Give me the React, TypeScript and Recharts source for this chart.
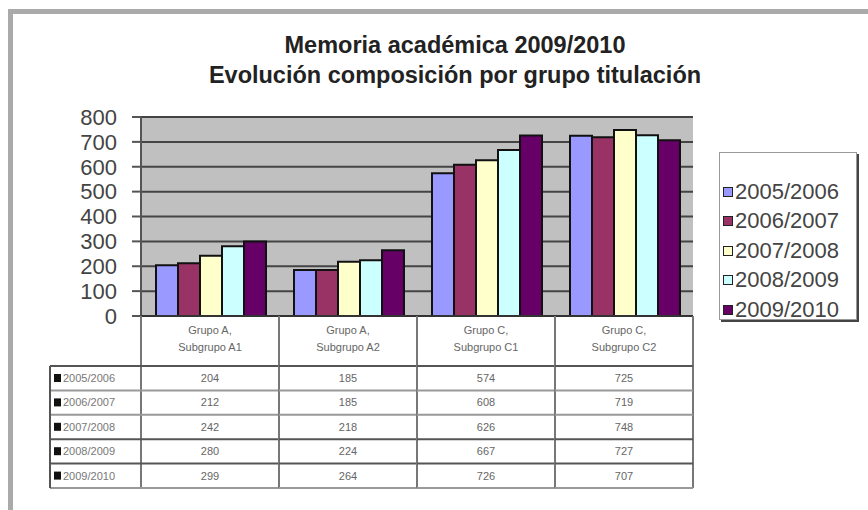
import React from "react";
import { BarChart, Bar, XAxis, YAxis, CartesianGrid, Legend } from "recharts";

const categories = [
  "Grupo A, Subgrupo A1",
  "Grupo A, Subgrupo A2",
  "Grupo C, Subgrupo C1",
  "Grupo C, Subgrupo C2",
];
const seriesNames = ["2005/2006", "2006/2007", "2007/2008", "2008/2009", "2009/2010"];
const s2005 = [204, 185, 574, 725];
const s2006 = [212, 185, 608, 719];
const s2007 = [242, 218, 626, 748];
const s2008 = [280, 224, 667, 727];
const s2009 = [299, 264, 726, 707];
const seriesValues = [s2005, s2006, s2007, s2008, s2009];
const seriesColors = ["#9999FF", "#993366", "#FFFFCC", "#CCFFFF", "#660066"];
const yTicks = [0, 100, 200, 300, 400, 500, 600, 700, 800];
const titleLines = ["Memoria académica 2009/2010", "Evolución composición por grupo titulación"];

const data = categories.map((c, i) => {
  const row: Record<string, any> = { name: c };
  seriesNames.forEach((s, k) => {
    row[s] = seriesValues[k][i];
  });
  return row;
});

const FONT = "'Liberation Sans', Arial, sans-serif";
const ROW_H = 24.4;
const HEADER_H = 50;
const rowLineColors = ["#555", "#999", "#999", "#555", "#555", "#999"];

const TableTick = (props: any) => {
  const { x, y, payload, index, width } = props;
  const band = (width || 552) / categories.length;
  const y0 = y;
  const left = x - band / 2;
  const right = x + band / 2;
  const parts = String(payload.value).split(", ");
  const bottom = y0 + HEADER_H + ROW_H * seriesNames.length;
  return (
    <g>
      <line x1={left} y1={y0} x2={left} y2={bottom} stroke="#777" strokeWidth={2} />
      {index === categories.length - 1 && (
        <line x1={right} y1={y0} x2={right} y2={bottom} stroke="#777" strokeWidth={2} />
      )}
      <text x={x} y={y0 + 18} textAnchor="middle" fontSize={11} fill="#666" fontFamily={FONT}>
        {parts[0] + ","}
      </text>
      <text x={x} y={y0 + 35} textAnchor="middle" fontSize={11} fill="#666" fontFamily={FONT}>
        {parts[1]}
      </text>
      {seriesNames.map((s, k) => (
        <text
          key={s}
          x={x}
          y={y0 + HEADER_H + ROW_H * k + 16}
          textAnchor="middle"
          fontSize={11}
          fill="#666"
          fontFamily={FONT}
        >
          {seriesValues[k][index]}
        </text>
      ))}
      {rowLineColors.map((c, k) => (
        <line
          key={"h" + k}
          x1={index === 0 ? left - 91 : left}
          x2={right}
          y1={y0 + HEADER_H + ROW_H * k}
          y2={y0 + HEADER_H + ROW_H * k}
          stroke={c}
          strokeWidth={2}
        />
      ))}
      {index === 0 && (
        <g>
          <line
            x1={left - 91}
            x2={left - 91}
            y1={y0 + HEADER_H}
            y2={bottom}
            stroke="#555"
            strokeWidth={2}
          />
          {seriesNames.map((s, k) => (
            <g key={s}>
              <rect
                x={left - 87}
                y={y0 + HEADER_H + ROW_H * k + 8}
                width={7}
                height={8}
                fill="#111"
              />
              <text
                x={left - 78}
                y={y0 + HEADER_H + ROW_H * k + 16}
                fontSize={11}
                fill="#777"
                fontFamily={FONT}
              >
                {s}
              </text>
            </g>
          ))}
        </g>
      )}
    </g>
  );
};

const LegendBox = (props: any) => {
  const payload = props.payload || [];
  return (
    <div
      style={{
        width: 138,
        height: 168,
        border: "1px solid #999",
        boxShadow: "2px 2px 0 #444",
        background: "#fff",
        boxSizing: "border-box",
        paddingTop: 24,
      }}
    >
      {payload.map((p: any) => (
        <div
          key={p.value}
          style={{
            display: "flex",
            alignItems: "center",
            height: 29.5,
            fontFamily: FONT,
            fontSize: 22,
            color: "#444",
            paddingLeft: 3,
            whiteSpace: "nowrap",
          }}
        >
          <span
            style={{
              display: "inline-block",
              width: 8,
              height: 8,
              background: p.color,
              border: "1.5px solid #222",
              marginRight: 2,
              flexShrink: 0,
            }}
          />
          <span>{p.value}</span>
        </div>
      ))}
    </div>
  );
};

export default function App() {
  return (
    <div
      style={{
        position: "absolute",
        left: 0,
        top: 0,
        width: 868,
        height: 510,
        background: "#fff",
        overflow: "hidden",
      }}
    >
      <div style={{ position: "absolute", left: 8, top: 9, width: 860, height: 5, background: "#aaa" }} />
      <div style={{ position: "absolute", left: 8, top: 9, width: 5, height: 501, background: "#aaa" }} />
      <div
        style={{
          position: "absolute",
          left: 0,
          top: 30,
          width: 910,
          textAlign: "center",
          fontFamily: FONT,
          fontWeight: "bold",
          fontSize: 23.5,
          lineHeight: "30px",
          color: "#222",
        }}
      >
        <div>{titleLines[0]}</div>
        <div>{titleLines[1]}</div>
      </div>
      <div style={{ position: "absolute", left: 0, top: 0 }}>
        <BarChart
          width={868}
          height={510}
          data={data}
          margin={{ top: 117, right: 175, bottom: 22, left: 81 }}
          barCategoryGap={15}
          barGap={0}
        >
          <CartesianGrid
            vertical={false}
            fill="#C0C0C0"
            stroke="#444"
            strokeWidth={2}
          />
          <YAxis
            width={60}
            domain={[0, 800]}
            ticks={yTicks}
            interval={0}
            tickSize={9}
            tickMargin={15}
            axisLine={{ stroke: "#555", strokeWidth: 2 }}
            tickLine={{ stroke: "#555", strokeWidth: 2 }}
            tick={{ fontSize: 22, fill: "#444", fontFamily: FONT }}
          />
          <XAxis
            dataKey="name"
            height={172}
            interval={0}
            tickSize={0}
            tickMargin={0}
            axisLine={{ stroke: "#333", strokeWidth: 2 }}
            tickLine={false}
            tick={<TableTick />}
          />
          <Legend
            layout="horizontal"
            align="center"
            verticalAlign="middle"
            content={<LegendBox />}
            wrapperStyle={{ position: "absolute", left: 719, top: 152, width: 140, height: 170 }}
          />
          {seriesNames.map((s, k) => (
            <Bar
              key={s}
              dataKey={s}
              fill={seriesColors[k]}
              stroke="#111"
              strokeWidth={2}
              isAnimationActive={false}
            />
          ))}
        </BarChart>
      </div>
    </div>
  );
}
